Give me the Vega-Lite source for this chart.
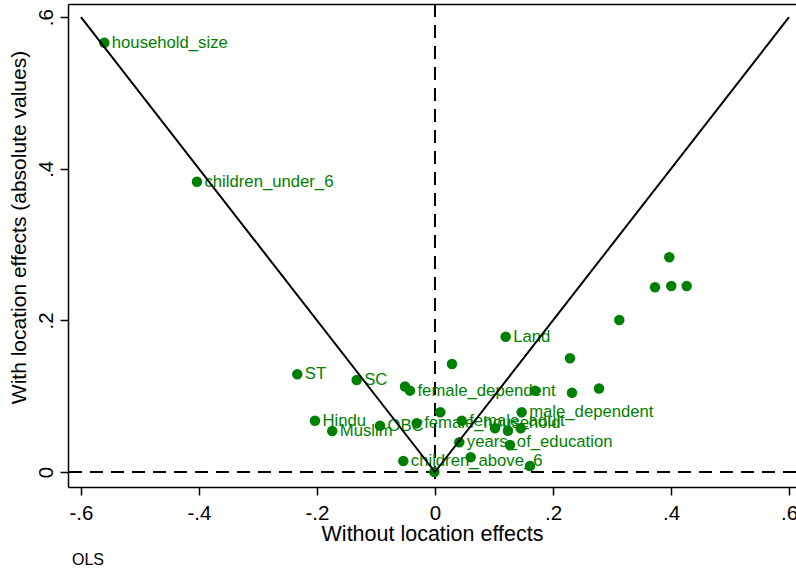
{
  "$schema": "https://vega.github.io/schema/vega-lite/v6.json",
  "autosize": "none",
  "width": 728,
  "height": 483,
  "padding": {"left": 68, "top": 4, "right": 0, "bottom": 84},
  "background": "white",
  "config": {
    "view": {"stroke": null},
    "font": "Liberation Sans",
    "axis": {"grid": false}
  },
  "title": {
    "text": "OLS",
    "orient": "bottom",
    "anchor": "start",
    "frame": "group",
    "font": "Liberation Sans",
    "fontSize": 16,
    "fontWeight": "normal",
    "color": "black",
    "offset": 7,
    "dx": 4
  },
  "datasets": {
    "coef": [
      {"variable": "household_size", "without": -0.5605, "with": 0.5663, "label": "household_size"},
      {"variable": "children_under_6", "without": -0.4034, "with": 0.3830, "label": "children_under_6"},
      {"variable": "ST", "without": -0.2334, "with": 0.1289, "label": "ST"},
      {"variable": "SC", "without": -0.1327, "with": 0.1214, "label": "SC"},
      {"variable": "Hindu", "without": -0.2034, "with": 0.0677, "label": "Hindu"},
      {"variable": "Muslim", "without": -0.1741, "with": 0.0541, "label": "Muslim"},
      {"variable": "OBC", "without": -0.0932, "with": 0.0611, "label": "OBC"},
      {"variable": "female_household", "without": -0.0310, "with": 0.0642, "label": "female_household"},
      {"variable": "female_dependent", "without": -0.0424, "with": 0.1073, "label": "female_dependent"},
      {"variable": "v10", "without": -0.0508, "with": 0.1128, "label": ""},
      {"variable": "v11", "without": 0.0288, "with": 0.1425, "label": ""},
      {"variable": "Land", "without": 0.1198, "with": 0.1785, "label": "Land"},
      {"variable": "v13", "without": 0.0090, "with": 0.0788, "label": ""},
      {"variable": "female_adult", "without": 0.0453, "with": 0.0677, "label": "female_adult"},
      {"variable": "male_dependent", "without": 0.1469, "with": 0.0788, "label": "male_dependent"},
      {"variable": "v16", "without": 0.1017, "with": 0.0577, "label": ""},
      {"variable": "v17", "without": 0.1237, "with": 0.0545, "label": ""},
      {"variable": "v18", "without": 0.1453, "with": 0.0577, "label": ""},
      {"variable": "years_of_education", "without": 0.0412, "with": 0.0392, "label": "years_of_education"},
      {"variable": "v20", "without": 0.1271, "with": 0.0356, "label": ""},
      {"variable": "children_above_6", "without": -0.0537, "with": 0.0145, "label": "children_above_6"},
      {"variable": "v22", "without": 0.0605, "with": 0.0194, "label": ""},
      {"variable": "v23", "without": 0.1610, "with": 0.0079, "label": ""},
      {"variable": "v24", "without": -0.0010, "with": 0.0000, "label": ""},
      {"variable": "v25", "without": 0.1695, "with": 0.1073, "label": ""},
      {"variable": "v26", "without": 0.2322, "with": 0.1046, "label": ""},
      {"variable": "v27", "without": 0.2780, "with": 0.1102, "label": ""},
      {"variable": "v28", "without": 0.2288, "with": 0.1500, "label": ""},
      {"variable": "v29", "without": 0.3124, "with": 0.2005, "label": ""},
      {"variable": "v30", "without": 0.3729, "with": 0.2437, "label": ""},
      {"variable": "v31", "without": 0.4005, "with": 0.2454, "label": ""},
      {"variable": "v32", "without": 0.4266, "with": 0.2454, "label": ""},
      {"variable": "v33", "without": 0.3971, "with": 0.2832, "label": ""}
    ],
    "diag": [
      {"without": -0.6, "with": 0.6},
      {"without": 0.0, "with": 0.0},
      {"without": 0.6, "with": 0.6}
    ],
    "zero": [
      {"value": 0}
    ]
  },
  "layer": [
    {
      "data": {"name": "zero"},
      "mark": {"type": "rule", "color": "black", "strokeWidth": 2, "strokeDash": [13, 8]},
      "encoding": {
        "x": {"field": "value", "type": "quantitative", "scale": {"domain": [-0.622, 0.6119], "nice": false, "zero": false}, "axis": null}
      }
    },
    {
      "data": {"name": "zero"},
      "mark": {"type": "rule", "color": "black", "strokeWidth": 2, "strokeDash": [13, 8]},
      "encoding": {
        "y": {"field": "value", "type": "quantitative", "scale": {"domain": [-0.0198, 0.6174], "nice": false, "zero": false}, "axis": null}
      }
    },
    {
      "data": {"name": "coef"},
      "mark": {"type": "point", "filled": true, "opacity": 1, "color": "#008000", "size": 110},
      "encoding": {
        "x": {
          "field": "without", "type": "quantitative",
          "scale": {"domain": [-0.622, 0.6119], "nice": false, "zero": false},
          "axis": {
            "orient": "bottom",
            "values": [-0.6, -0.4, -0.2, 0, 0.2, 0.4, 0.6],
            "labelExpr": "datum.value == 0 ? '0' : (datum.value < 0 ? '-' : '') + '.' + format(abs(datum.value) * 10, '.0f')",
            "title": "Without location effects",
            "titleFont": "Liberation Sans",
            "titleFontSize": 21.5,
            "titleFontWeight": "normal",
            "titleColor": "black",
            "titlePadding": 0,
            "labelFont": "Liberation Sans",
            "labelFontSize": 20.5,
            "labelColor": "black",
            "labelPadding": 8,
            "labelFlush": false,
            "labelOverlap": false,
            "tickSize": 8,
            "tickWidth": 1.5,
            "tickColor": "black",
            "domainColor": "black",
            "domainWidth": 1.5
          }
        },
        "y": {
          "field": "with", "type": "quantitative",
          "scale": {"domain": [-0.0198, 0.6174], "nice": false, "zero": false},
          "axis": {
            "orient": "left",
            "values": [0, 0.2, 0.4, 0.6],
            "labelExpr": "datum.value == 0 ? '0' : (datum.value < 0 ? '-' : '') + '.' + format(abs(datum.value) * 10, '.0f')",
            "labelAngle": -90,
            "labelAlign": "center",
            "labelBaseline": "bottom",
            "labelPadding": 4,
            "labelFont": "Liberation Sans",
            "labelFontSize": 20.5,
            "labelColor": "black",
            "labelFlush": false,
            "labelOverlap": false,
            "title": "With location effects (absolute values)",
            "titleFont": "Liberation Sans",
            "titleFontSize": 21,
            "titleFontWeight": "normal",
            "titleColor": "black",
            "titlePadding": 7,
            "titleY": 223,
            "tickSize": 8,
            "tickWidth": 1.5,
            "tickColor": "black",
            "domainColor": "black",
            "domainWidth": 1.5
          }
        }
      }
    },
    {
      "data": {"name": "coef"},
      "mark": {"type": "text", "align": "left", "baseline": "middle", "dx": 7.5, "fontSize": 16.7, "font": "Liberation Sans", "color": "#008000"},
      "encoding": {
        "x": {"field": "without", "type": "quantitative", "scale": {"domain": [-0.622, 0.6119], "nice": false, "zero": false}, "axis": null},
        "y": {"field": "with", "type": "quantitative", "scale": {"domain": [-0.0198, 0.6174], "nice": false, "zero": false}, "axis": null},
        "text": {"field": "label"}
      }
    },
    {
      "data": {"name": "diag"},
      "mark": {"type": "line", "color": "black", "strokeWidth": 2},
      "encoding": {
        "x": {
          "field": "without", "type": "quantitative",
          "scale": {"domain": [-0.622, 0.6119], "nice": false, "zero": false},
          "axis": {"orient": "top", "labels": false, "ticks": false, "title": null, "domain": true, "domainColor": "black", "domainWidth": 1.5}
        },
        "y": {"field": "with", "type": "quantitative", "scale": {"domain": [-0.0198, 0.6174], "nice": false, "zero": false}, "axis": null}
      }
    }
  ],
  "resolve": {"axis": {"x": "independent", "y": "independent"}}
}
